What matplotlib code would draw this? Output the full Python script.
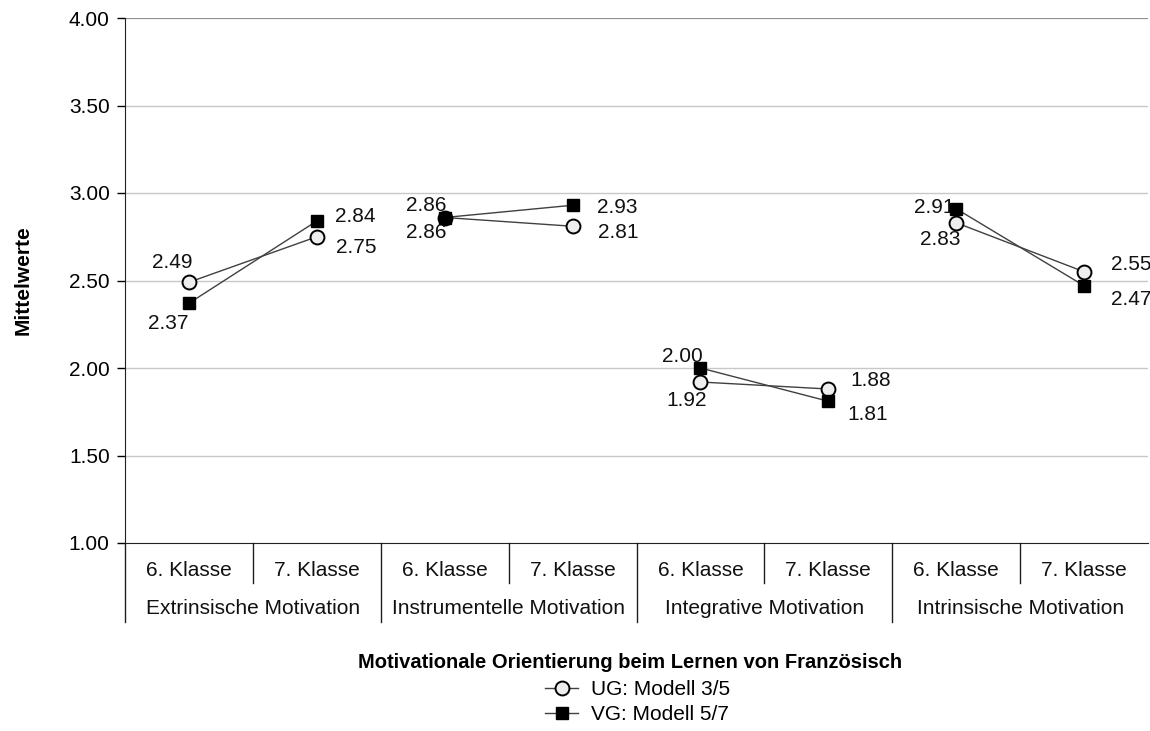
import numpy as np
import matplotlib.pyplot as plt
from matplotlib.lines import Line2D

plt.rcParams['font.family'] = ['Liberation Sans', 'DejaVu Sans']

groups = ["Extrinsische Motivation", "Instrumentelle Motivation",
          "Integrative Motivation", "Intrinsische Motivation"]
grades = ["6. Klasse", "7. Klasse"]
ug_values = [2.49, 2.75, 2.86, 2.81, 1.92, 1.88, 2.83, 2.55]
vg_values = [2.37, 2.84, 2.86, 2.93, 2.00, 1.81, 2.91, 2.47]
ug_label = "UG: Modell 3/5"
vg_label = "VG: Modell 5/7"
y_ticks = [1.00, 1.50, 2.00, 2.50, 3.00, 3.50, 4.00]

# label offsets in pixels (dx, dy up) relative to the marker
ug_offsets = [(-17, 20), (39, -11), (-18, -15), (46, -6),
              (-14, -19), (42, 9), (-16, -17), (47, 7)]
vg_offsets = [(-21, -20), (38, 5), (-18, 12), (45, -2),
              (-18, 12), (39, -13), (-22, 1), (47, -14)]

fs = 15
fig = plt.figure(figsize=(11.5, 7.31), dpi=100)
ax = fig.add_axes([125 / 1150, 1 - 543 / 731, 1023 / 1150, 525 / 731])

n = len(ug_values)
x = np.arange(n) + 0.5

for y in y_ticks[1:-1]:
    ax.axhline(y, color="#c8c8c8", lw=1, zorder=0)
ax.axhline(4.0, color="#909090", lw=1.6, zorder=0)

line_col = "#404040"
for g in range(len(groups)):
    sl = slice(2 * g, 2 * g + 2)
    ax.plot(x[sl], ug_values[sl], color=line_col, lw=1, zorder=2)
    ax.plot(x[sl], vg_values[sl], color=line_col, lw=1, zorder=2)

ax.plot(x, ug_values, ls="none", marker="o", ms=10, mfc="#eeeeee",
        mec="black", mew=1.4, zorder=3)
ax.plot(x, vg_values, ls="none", marker="s", ms=9, mfc="black",
        mec="black", zorder=4)

for xi, v, off in zip(x, ug_values, ug_offsets):
    ax.annotate(f"{v:.2f}", (xi, v), xytext=off, textcoords="offset pixels",
                ha="center", va="center", fontsize=fs, color="#111111",
                annotation_clip=False)
for xi, v, off in zip(x, vg_values, vg_offsets):
    ax.annotate(f"{v:.2f}", (xi, v), xytext=off, textcoords="offset pixels",
                ha="center", va="center", fontsize=fs, color="#111111",
                annotation_clip=False)

ax.set_xlim(0, n)
ax.set_ylim(1.0, 4.0)
ax.set_yticks(y_ticks)
ax.set_yticklabels([f"{t:.2f}" for t in y_ticks], fontsize=fs)
ax.tick_params(axis="y", direction="out", length=6, width=1, pad=5)
ax.set_xticks([])

for side in ["top", "right"]:
    ax.spines[side].set_visible(False)
ax.spines["left"].set_color("#202020")
ax.spines["bottom"].set_color("#202020")

# two-level category axis
trans = ax.get_xaxis_transform()
px = 1 / 525  # one pixel in axes-y units
ax.plot([0, 0], [0, -79 * px], color="#202020", lw=1, transform=trans, clip_on=False)
for i in range(1, n):
    depth = 79 if i % 2 == 0 else 40
    ax.plot([i, i], [0, -depth * px], color="#202020", lw=1,
            transform=trans, clip_on=False)
for i in range(n):
    ax.text(x[i], -27 * px, grades[i % 2], ha="center", va="center",
            fontsize=fs, color="#111111", transform=trans)
for g, name in enumerate(groups):
    ax.text(2 * g + 1, -65 * px, name, ha="center", va="center",
            fontsize=fs, color="#111111", transform=trans)

ax.set_ylabel("Mittelwerte", fontsize=15, fontweight="bold", labelpad=26)
fig.text(630 / 1150, 1 - 662 / 731,
         "Motivationale Orientierung beim Lernen von Französisch",
         ha="center", va="center", fontsize=14.5, fontweight="bold")

handles = [
    Line2D([], [], color=line_col, lw=1, marker="o", ms=10, mfc="#eeeeee",
           mec="black", mew=1.4),
    Line2D([], [], color=line_col, lw=1, marker="s", ms=9, mfc="black",
           mec="black"),
]
fig.legend(handles, [ug_label, vg_label], loc="upper left",
           bbox_to_anchor=(545 / 1150, 1 - 680 / 731), frameon=False,
           fontsize=fs, handlelength=1.6, handletextpad=0.6,
           labelspacing=0.3, borderpad=0, borderaxespad=0)

fig.savefig("out.png", dpi=100)
